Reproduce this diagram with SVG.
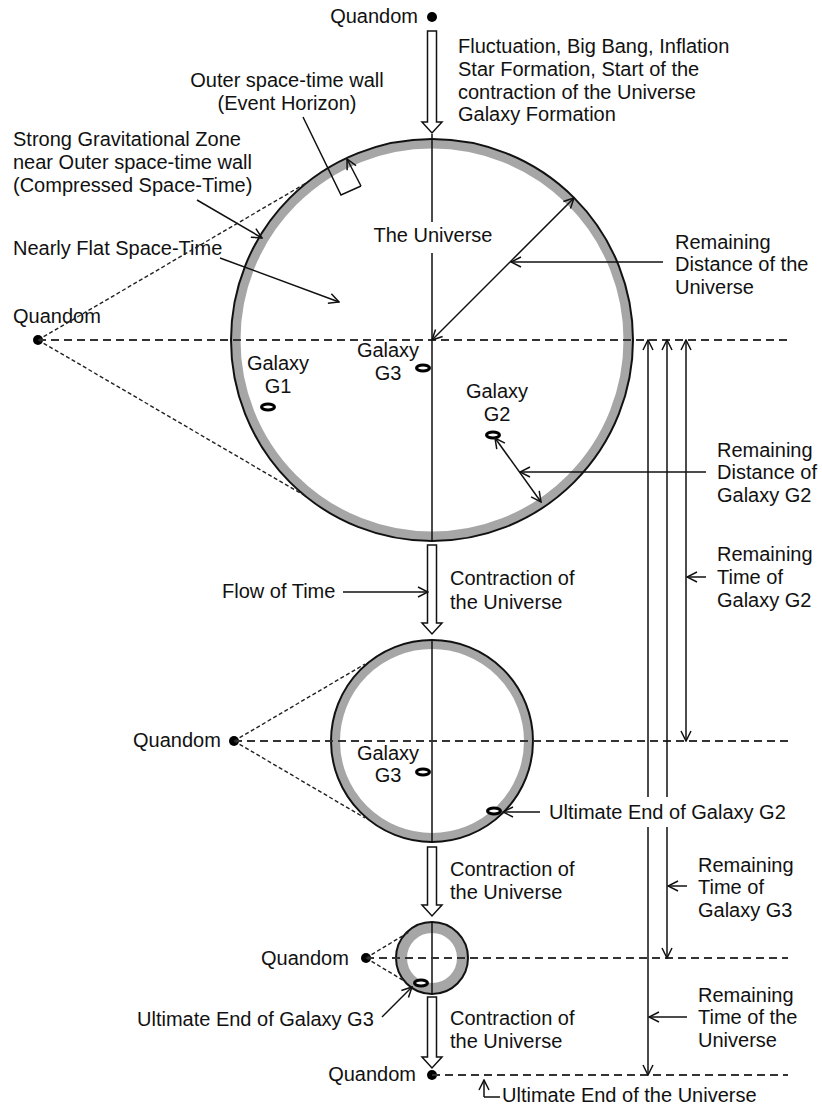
<svg xmlns="http://www.w3.org/2000/svg" width="822" height="1108" viewBox="0 0 822 1108">
<style>
text{font-family:"Liberation Sans",Arial,sans-serif;font-size:20px;fill:#111}
.ln{stroke:#111;stroke-width:1.5;fill:none}
.ar{stroke:#111;stroke-width:1.5;fill:none;marker-end:url(#a)}
.ar2{stroke:#111;stroke-width:1.5;fill:none;marker-end:url(#a);marker-start:url(#a)}
.dl{stroke:#333;stroke-width:1.8;fill:none;stroke-dasharray:8,5}
.dt{stroke:#222;stroke-width:1.4;fill:none;stroke-dasharray:4,2.5}
.ring{fill:none;stroke:#a6a6a6}
.edge{fill:none;stroke:#111;stroke-width:2}
.gal{fill:#fff;stroke:#000;stroke-width:3}
.hollow{fill:#fff;stroke:#111;stroke-width:1.5}
.dot{fill:#000}
</style>
<defs>
<marker id="a" viewBox="0 0 12 12" refX="11" refY="6" markerWidth="12" markerHeight="12" orient="auto-start-reverse" markerUnits="userSpaceOnUse">
<path d="M1,1 L11,6 L1,11" fill="none" stroke="#111" stroke-width="1.5"/>
</marker>
</defs>

<g id="universe1">
<circle class="ring" cx="432" cy="340" r="196" stroke-width="9"/>
<circle class="edge" cx="432" cy="340" r="201"/>
<text x="433" y="242" text-anchor="middle">The Universe</text>
</g>
<g id="universe2">
<circle class="ring" cx="432" cy="741" r="96.5" stroke-width="9"/>
<circle class="edge" cx="432" cy="741" r="101"/>
</g>
<g id="universe3">
<circle class="ring" cx="432" cy="958" r="30.5" stroke-width="11"/>
<circle class="edge" cx="432" cy="958" r="36"/>
</g>

<g id="quandom-top"><circle class="dot" cx="432" cy="17" r="5"/><text x="418" y="23" text-anchor="end">Quandom</text></g>
<g id="quandom-left"><circle class="dot" cx="38" cy="340" r="5"/><text x="13" y="323">Quandom</text></g>
<g id="quandom-2"><circle class="dot" cx="234" cy="741" r="5"/><text x="133" y="747">Quandom</text></g>
<g id="quandom-3"><circle class="dot" cx="366" cy="958" r="5"/><text x="261" y="965">Quandom</text></g>
<g id="quandom-bottom"><circle class="dot" cx="432" cy="1075" r="5"/><text x="416" y="1081" text-anchor="end">Quandom</text></g>

<g id="galaxies">
<ellipse class="gal" cx="268" cy="407" rx="6.5" ry="3"/>
<ellipse class="gal" cx="423" cy="368" rx="6.5" ry="3"/>
<ellipse class="gal" cx="493" cy="435" rx="6.5" ry="3"/>
<ellipse class="gal" cx="423" cy="772" rx="6.5" ry="3"/>
<ellipse class="gal" cx="494" cy="811" rx="6.5" ry="3"/>
<ellipse class="gal" cx="421" cy="983" rx="6.5" ry="3"/>
</g>

<g id="labels">
<text x="458" y="53">Fluctuation, Big Bang, Inflation</text>
<text x="458" y="76">Star Formation, Start of the</text>
<text x="458" y="99">contraction of the Universe</text>
<text x="458" y="121">Galaxy Formation</text>
<text x="287" y="87" text-anchor="middle">Outer space-time wall</text>
<text x="287" y="110" text-anchor="middle">(Event Horizon)</text>
<text x="13" y="146">Strong Gravitational Zone</text>
<text x="13" y="169">near Outer space-time wall</text>
<text x="13" y="192">(Compressed Space-Time)</text>
<text x="13" y="255">Nearly Flat Space-Time</text>
<text x="675" y="249">Remaining</text>
<text x="675" y="271">Distance of the</text>
<text x="675" y="294">Universe</text>
<text x="278" y="370" text-anchor="middle">Galaxy</text>
<text x="278" y="393" text-anchor="middle">G1</text>
<text x="388" y="357" text-anchor="middle">Galaxy</text>
<text x="388" y="380" text-anchor="middle">G3</text>
<text x="497" y="398" text-anchor="middle">Galaxy</text>
<text x="497" y="421" text-anchor="middle">G2</text>
<text x="717" y="457">Remaining</text>
<text x="717" y="479">Distance of</text>
<text x="717" y="502">Galaxy G2</text>
<text x="717" y="561">Remaining</text>
<text x="717" y="584">Time of</text>
<text x="717" y="607">Galaxy G2</text>
<text x="222" y="598">Flow of Time</text>
<text x="450" y="585">Contraction of</text>
<text x="450" y="609">the Universe</text>
<text x="388" y="760" text-anchor="middle">Galaxy</text>
<text x="388" y="782" text-anchor="middle">G3</text>
<text x="549" y="819">Ultimate End of Galaxy G2</text>
<text x="450" y="876">Contraction of</text>
<text x="450" y="899">the Universe</text>
<text x="698" y="872">Remaining</text>
<text x="698" y="894">Time of</text>
<text x="698" y="917">Galaxy G3</text>
<text x="137" y="1026">Ultimate End of Galaxy G3</text>
<text x="450" y="1025">Contraction of</text>
<text x="450" y="1048">the Universe</text>
<text x="698" y="1002">Remaining</text>
<text x="698" y="1024">Time of the</text>
<text x="698" y="1047">Universe</text>
<text x="502" y="1102">Ultimate End of the Universe</text>
</g>

<g id="connectors">
<polygon class="hollow" points="427.5,31 436.5,31 436.5,122 442,122 432,133 422,122 427.5,122"/>
<polygon class="hollow" points="427.5,545 436.5,545 436.5,623 442,623 432,634 422,623 427.5,623"/>
<polygon class="hollow" points="427.5,847 436.5,847 436.5,905 442,905 432,916 422,905 427.5,905"/>
<polygon class="hollow" points="427.5,997 436.5,997 436.5,1057 442,1057 432,1068 422,1057 427.5,1057"/>
<path class="ln" d="M432,134 V222 M432,253 V541 M432,640 V842 M432,922 V995"/>
<path class="dl" d="M38,340 H788 M234,741 H788 M366,958 H788 M432,1075 H788"/>
<path class="dt" d="M38,340 L308,182 M38,340 L307,497 M234,741 L365,664 M234,741 L365,818 M366,958 L409,932 M366,958 L406,982"/>
<path class="ln" d="M303,117 L341,195 L361,186"/>
<path class="ar" d="M361,186 L347,159"/>
<path class="ar" d="M197,200 L262,238"/>
<path class="ar" d="M220,258 L339,302"/>
<path class="ar2" d="M432,340 L574,198"/>
<path class="ar" d="M663,262 H511"/>
<path class="ar2" d="M495,438 L541,502"/>
<path class="ar" d="M706,472 H520"/>
<path class="ar" d="M648,797 V340"/>
<path class="ar" d="M667,797 V340"/>
<path class="ar2" d="M686,340 V741"/>
<path class="ar" d="M648,827 V1075"/>
<path class="ar" d="M667,827 V958"/>
<path class="ar" d="M706,577 H687"/>
<path class="ar" d="M343,592 H428"/>
<path class="ar" d="M540,812 H503"/>
<path class="ar" d="M687,886 H668"/>
<path class="ar" d="M687,1017 H649"/>
<path class="ar" d="M382,1017 L412,987"/>
<path class="ln" d="M500,1097 H484"/>
<path class="ar" d="M484,1097 V1080"/>
</g>
</svg>
